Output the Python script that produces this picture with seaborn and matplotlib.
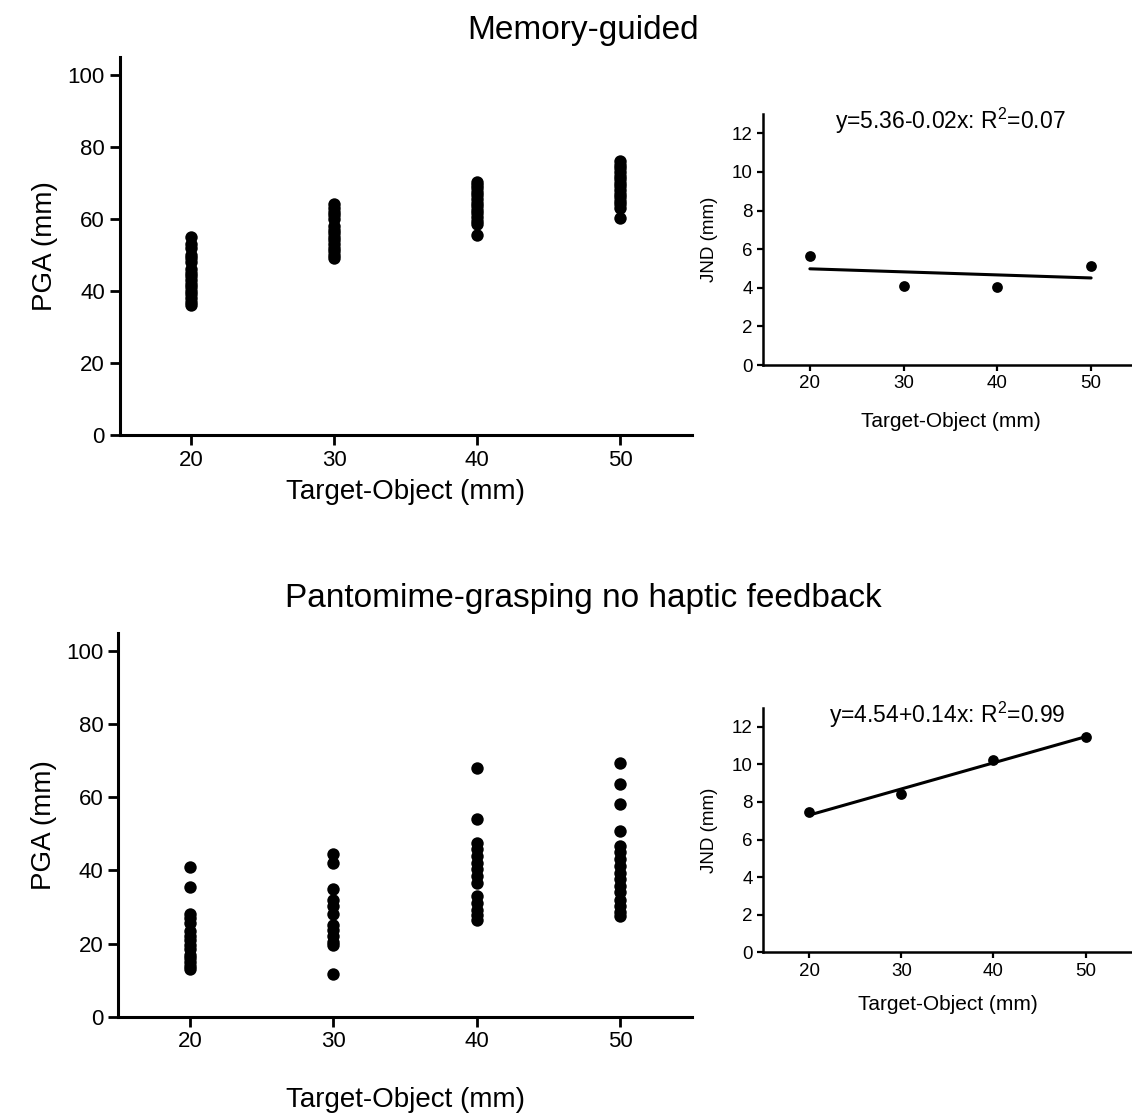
import numpy as np
import pandas as pd
import matplotlib
matplotlib.use("Agg")
import matplotlib.pyplot as plt
import seaborn as sns

# ---------------- data ----------------
mg_20 = [36, 37, 38, 39, 40, 41, 42, 43, 44, 45, 46, 48, 49, 50, 52, 53, 55]
mg_30 = [49, 50, 51, 52, 53, 54, 55, 56, 57, 58, 60, 61, 62, 63, 64]
mg_40 = [55.5, 58.5, 59.5, 60.5, 61.5, 62.5, 63.5, 64.5, 65.5, 66.5, 67.5, 68.5, 69.5, 70.3]
mg_50 = [60.3, 63, 64, 65, 66, 67, 68, 69, 70, 71, 72, 73, 74, 75, 76]

pg_20 = [40.8, 35.5, 28, 27, 25.5, 23.5, 22, 21, 19.5, 18.5, 17, 16, 15, 14, 13]
pg_30 = [44.4, 42, 34.8, 32, 30.3, 28, 25.2, 23.8, 22, 20.5, 19.6, 11.8]
pg_40 = [67.9, 54, 47.6, 45.8, 44, 42, 40.3, 38.5, 36.6, 33, 31, 29.3, 27.8, 26.5]
pg_50 = [69.5, 63.7, 58.2, 50.9, 46.8, 45, 43, 41.3, 39.4, 37.6, 35.8, 34, 32, 30.2, 28.5, 27.5]

sizes = [20, 30, 40, 50]
jnd_mg = [5.66, 4.11, 4.06, 5.15]
jnd_pg = [7.45, 8.4, 10.23, 11.47]

titles = ["Memory-guided", "Pantomime-grasping no haptic feedback"]
eqs = ["y=5.36-0.02x: R$^2$=0.07", "y=4.54+0.14x: R$^2$=0.99"]

def long_df(cols):
    xs, ys = [], []
    for s, vals in zip(sizes, cols):
        xs += [s] * len(vals)
        ys += list(vals)
    return pd.DataFrame({"size": xs, "pga": ys})

df_mg = long_df([mg_20, mg_30, mg_40, mg_50])
df_pg = long_df([pg_20, pg_30, pg_40, pg_50])
jnd_df_mg = pd.DataFrame({"size": sizes, "jnd": jnd_mg})
jnd_df_pg = pd.DataFrame({"size": sizes, "jnd": jnd_pg})

# ---------------- style ----------------
sns.set_theme(style="ticks")
plt.rcParams["font.family"] = ["Liberation Sans", "DejaVu Sans"]
plt.rcParams["mathtext.fontset"] = "custom"
plt.rcParams["mathtext.rm"] = "Liberation Sans"
plt.rcParams["mathtext.it"] = "Liberation Sans"
for k in ["text.color", "axes.labelcolor", "xtick.color", "ytick.color", "axes.edgecolor"]:
    plt.rcParams[k] = "black"

W, H = 1132, 1116
fig = plt.figure(figsize=(W / 100, H / 100), dpi=100)

def rect(l, r, top, bot):
    return [l / W, 1 - bot / H, (r - l) / W, (bot - top) / H]

main_rects = [rect(119.5, 692, 56.7, 435), rect(118.3, 691.7, 632.7, 1016.7)]
inset_rects = [rect(763, 1138, 114, 365), rect(763.3, 1131.6, 708, 952.3)]
title_y = [30, 598]
main_xpad = [6, 25]
inset_xpad = [14, 11]

for i, (df, jdf) in enumerate([(df_mg, jnd_df_mg), (df_pg, jnd_df_pg)]):
    ax = fig.add_axes(main_rects[i])
    sns.scatterplot(data=df, x="size", y="pga", ax=ax, color="black",
                    s=80, edgecolor="black", linewidth=0, legend=False)
    ax.set_xlim(15, 55)
    ax.set_ylim(0, 105)
    ax.set_xticks(sizes)
    ax.set_yticks([0, 20, 40, 60, 80, 100])
    ax.set_xlabel("Target-Object (mm)", fontsize=20, labelpad=main_xpad[i])
    ax.set_ylabel("PGA (mm)", fontsize=20, labelpad=7)
    ax.tick_params(labelsize=16, width=2, length=7, color="black")
    for sp in ["top", "right"]:
        ax.spines[sp].set_visible(False)
    for sp in ["left", "bottom"]:
        ax.spines[sp].set_linewidth(2.2)
    fig.text(583 / W, 1 - title_y[i] / H, titles[i], ha="center", va="center",
             fontsize=24)

    ia = fig.add_axes(inset_rects[i])
    sns.regplot(data=jdf, x="size", y="jnd", ax=ia, ci=None, color="black",
                scatter_kws={"s": 60, "linewidths": 0, "alpha": 1},
                line_kws={"linewidth": 2.2})
    ia.set_xlim(15, 55)
    ia.set_ylim(0, 13)
    ia.set_xticks(sizes)
    ia.set_yticks([0, 2, 4, 6, 8, 10, 12])
    ia.set_xlabel("Target-Object (mm)", fontsize=15, labelpad=inset_xpad[i])
    ia.set_ylabel("JND (mm)", fontsize=13.5, labelpad=10)
    ia.tick_params(labelsize=13.5, width=1.6, length=4, color="black")
    for sp in ["top", "right"]:
        ia.spines[sp].set_visible(False)
    for sp in ["left", "bottom"]:
        ia.spines[sp].set_linewidth(1.8)
    ia.text(35, 12.65, eqs[i], ha="center", va="center", fontsize=16.5)

fig.savefig("out.png", dpi=100)
